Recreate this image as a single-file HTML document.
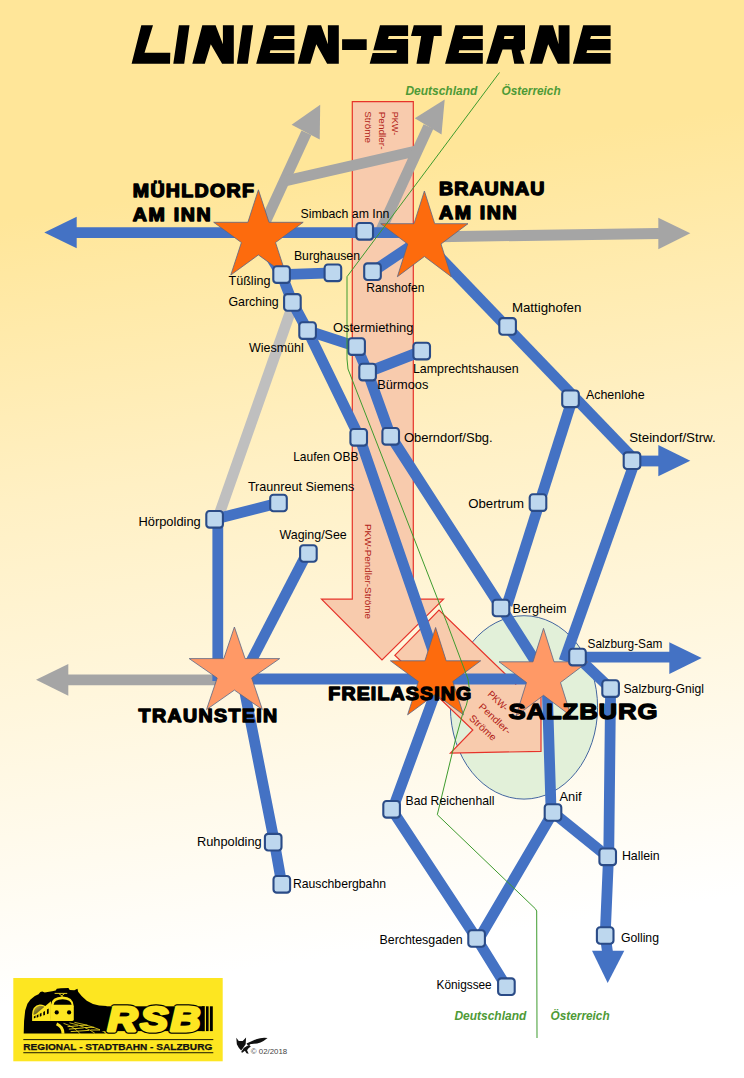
<!DOCTYPE html>
<html><head><meta charset="utf-8"><title>Linien-Sterne</title>
<style>
html,body{margin:0;padding:0;}
body{width:744px;height:1078px;overflow:hidden;background:#fff;font-family:"Liberation Sans",sans-serif;}
svg{display:block;font-family:"Liberation Sans",sans-serif;}
</style></head><body>
<svg width="744" height="1078" viewBox="0 0 744 1078">
<defs>
<linearGradient id="bg" gradientUnits="userSpaceOnUse" x1="0" y1="0" x2="178" y2="1186.7">
<stop offset="0" stop-color="#FFE699"/><stop offset="0.18" stop-color="#FFE699"/><stop offset="0.416" stop-color="#FFF0C4"/><stop offset="0.83" stop-color="#FFFFFF"/><stop offset="1" stop-color="#FFFFFF"/>
</linearGradient>
</defs>
<rect width="744" height="1078" fill="url(#bg)"/>

<ellipse cx="524" cy="707.4" rx="73.6" ry="91.7" fill="#E2F0D9" stroke="#2F5597" stroke-width="0.9"/>
<polygon points="352.3,101.7 413.3,101.7 413.3,599.2 443.5,599.2 382.0,660.0 321.5,599.2 352.3,599.2" fill="#F8CBAD" />
<polygon points="394.8,655.3 439.0,610.0 515.7,684.1 541.0,660.5 541.0,751.3 450.4,753.2 472.8,730.0" fill="#F8CBAD" />
<polygon points="352.3,101.7 413.3,101.7 413.3,599.2 443.5,599.2 382.0,660.0 321.5,599.2 352.3,599.2" fill="none" stroke="#E6332A" stroke-width="1.2" stroke-linejoin="miter" />
<polygon points="394.8,655.3 439.0,610.0 515.7,684.1 541.0,660.5 541.0,751.3 450.4,753.2 472.8,730.0" fill="none" stroke="#E6332A" stroke-width="1.2" stroke-linejoin="miter" />
<g fill="#B22217" font-size="9.8">
<text transform="translate(392.3,111.7) rotate(90)" textLength="23.5" lengthAdjust="spacingAndGlyphs">PKW-</text>
<text transform="translate(378.7,111.7) rotate(90)" textLength="37.8" lengthAdjust="spacingAndGlyphs">Pendler-</text>
<text transform="translate(365,111.3) rotate(90)" textLength="31.6" lengthAdjust="spacingAndGlyphs">Ströme</text>
<text transform="translate(365.3,524) rotate(90)" textLength="95" lengthAdjust="spacingAndGlyphs">PKW-Pendler-Ströme</text>
<text transform="translate(487,695) rotate(43)" textLength="24" lengthAdjust="spacingAndGlyphs">PKW-</text>
<text transform="translate(478,707.5) rotate(43)" textLength="40" lengthAdjust="spacingAndGlyphs">Pendler-</text>
<text transform="translate(468.5,719) rotate(43)" textLength="33" lengthAdjust="spacingAndGlyphs">Ströme</text>
</g>
<polyline points="293.6,302.6 218.6,516.0" fill="none" stroke="#BFBFBF" stroke-width="10.8" stroke-linecap="butt" stroke-linejoin="round"/>
<polyline points="258.4,237.0 306.4,132.7" fill="none" stroke="#A5A5A5" stroke-width="10.8" stroke-linecap="butt" stroke-linejoin="round"/>
<polyline points="286.0,180.8 416.0,151.0" fill="none" stroke="#A5A5A5" stroke-width="10.8" stroke-linecap="butt" stroke-linejoin="round"/>
<polyline points="381.0,230.0 428.5,126.5" fill="none" stroke="#A5A5A5" stroke-width="10.8" stroke-linecap="butt" stroke-linejoin="round"/>
<polygon points="320.2,104.7 291.6,124.8 319.7,139.4" fill="#A5A5A5" />
<polygon points="444.7,99.4 414.8,118.2 441.5,134.4" fill="#A5A5A5" />
<polyline points="424.3,237.0 659.0,233.5" fill="none" stroke="#A5A5A5" stroke-width="10.8" stroke-linecap="butt" stroke-linejoin="round"/>
<polygon points="690.3,233.3 658.3,217.7 658.3,249.3" fill="#A5A5A5" />
<polyline points="68.0,679.8 234.0,679.8" fill="none" stroke="#A5A5A5" stroke-width="10.8" stroke-linecap="butt" stroke-linejoin="round"/>
<polygon points="36.0,679.7 68.3,664.0 68.3,695.7" fill="#A5A5A5" />
<polyline points="76.0,232.6 424.0,232.6" fill="none" stroke="#4472C4" stroke-width="10.8" stroke-linecap="butt" stroke-linejoin="round"/>
<polyline points="430.0,247.0 632.0,457.0" fill="none" stroke="#4472C4" stroke-width="10.8" stroke-linecap="butt" stroke-linejoin="round"/>
<polyline points="631.0,461.0 660.0,461.0" fill="none" stroke="#4472C4" stroke-width="10.8" stroke-linecap="butt" stroke-linejoin="round"/>
<polyline points="570.5,405.0 507.0,605.0" fill="none" stroke="#4472C4" stroke-width="10.8" stroke-linecap="butt" stroke-linejoin="round"/>
<polyline points="634.0,464.0 564.0,661.0" fill="none" stroke="#4472C4" stroke-width="10.8" stroke-linecap="butt" stroke-linejoin="round"/>
<polyline points="424.3,237.0 372.5,271.7" fill="none" stroke="#4472C4" stroke-width="10.8" stroke-linecap="butt" stroke-linejoin="round"/>
<polyline points="281.6,274.6 332.9,272.8" fill="none" stroke="#4472C4" stroke-width="10.8" stroke-linecap="butt" stroke-linejoin="round"/>
<polyline points="258.4,237.0 281.6,274.6 292.4,302.4 307.6,330.6 359.5,437.5 439.0,668.0" fill="none" stroke="#4472C4" stroke-width="10.8" stroke-linecap="butt" stroke-linejoin="round"/>
<polyline points="307.6,330.6 356.6,346.6 367.6,372.1 390.7,436.3 501.5,608.0 543.5,674.0" fill="none" stroke="#4472C4" stroke-width="10.8" stroke-linecap="butt" stroke-linejoin="round"/>
<polyline points="367.6,372.1 421.7,351.1" fill="none" stroke="#4472C4" stroke-width="10.8" stroke-linecap="butt" stroke-linejoin="round"/>
<polyline points="214.6,519.3 278.5,503.0" fill="none" stroke="#4472C4" stroke-width="10.8" stroke-linecap="butt" stroke-linejoin="round"/>
<polyline points="217.8,520.0 217.8,681.0" fill="none" stroke="#4472C4" stroke-width="10.8" stroke-linecap="butt" stroke-linejoin="round"/>
<polyline points="304.0,559.0 245.0,673.0" fill="none" stroke="#4472C4" stroke-width="10.8" stroke-linecap="butt" stroke-linejoin="round"/>
<polyline points="234.0,679.0 545.0,679.0" fill="none" stroke="#4472C4" stroke-width="10.8" stroke-linecap="butt" stroke-linejoin="round"/>
<polyline points="577.5,657.1 670.0,657.2" fill="none" stroke="#4472C4" stroke-width="10.8" stroke-linecap="butt" stroke-linejoin="round"/>
<polyline points="242.0,678.0 273.6,838.0 281.8,884.3" fill="none" stroke="#4472C4" stroke-width="10.8" stroke-linecap="butt" stroke-linejoin="round"/>
<polyline points="443.0,672.0 394.5,804.0 391.6,809.3 476.6,938.5 506.4,986.7" fill="none" stroke="#4472C4" stroke-width="10.8" stroke-linecap="butt" stroke-linejoin="round"/>
<polyline points="547.3,690.0 551.0,808.0 553.0,812.5" fill="none" stroke="#4472C4" stroke-width="10.8" stroke-linecap="butt" stroke-linejoin="round"/>
<polyline points="553.0,812.5 480.0,937.0 476.6,938.5" fill="none" stroke="#4472C4" stroke-width="10.8" stroke-linecap="butt" stroke-linejoin="round"/>
<polyline points="553.0,812.5 607.7,856.8" fill="none" stroke="#4472C4" stroke-width="10.8" stroke-linecap="butt" stroke-linejoin="round"/>
<polyline points="577.5,657.1 610.6,688.6 608.8,850.0 605.2,935.5 607.5,952.0" fill="none" stroke="#4472C4" stroke-width="10.8" stroke-linecap="butt" stroke-linejoin="round"/>
<polygon points="44.3,232.5 76.7,216.7 76.7,248.3" fill="#4472C4" />
<polygon points="690.3,460.7 658.3,445.0 658.3,476.3" fill="#4472C4" />
<polygon points="701.7,658.0 669.3,642.3 669.3,674.0" fill="#4472C4" />
<polygon points="607.7,983.0 592.0,950.7 624.3,950.7" fill="#4472C4" />
<polygon points="258.4,189.8 269.0,222.3 303.2,222.3 275.5,242.5 286.1,275.0 258.4,254.9 230.8,275.0 241.4,242.5 213.7,222.3 247.9,222.3" fill="#FD6B0D" stroke="#5b6685" stroke-width="0.8" stroke-linejoin="miter" />
<polygon points="424.4,191.0 434.7,223.7 468.0,223.7 441.0,244.0 451.3,276.7 424.4,256.5 397.4,276.7 407.7,244.0 380.7,223.7 414.0,223.7" fill="#FD6B0D" stroke="#5b6685" stroke-width="0.8" stroke-linejoin="miter" />
<polygon points="234.4,627.0 245.1,658.6 279.7,658.6 251.7,678.0 262.4,709.6 234.4,690.1 206.5,709.6 217.2,678.0 189.2,658.6 223.8,658.6" fill="#FF9966" stroke="#5b6685" stroke-width="0.8" stroke-linejoin="miter" />
<polygon points="435.6,627.5 446.2,660.8 480.7,660.8 452.8,681.5 463.5,714.8 435.5,694.2 407.6,714.8 418.3,681.5 390.4,660.8 424.9,660.8" fill="#FD6B0D" stroke="#5b6685" stroke-width="0.8" stroke-linejoin="miter" />
<polygon points="543.5,628.3 554.0,661.8 588.0,661.8 560.5,682.5 571.0,716.0 543.5,695.3 516.0,716.0 526.5,682.5 499.0,661.8 533.0,661.8" fill="#FF9966" stroke="#5b6685" stroke-width="0.8" stroke-linejoin="miter" />
<rect x="356.4" y="223.0" width="16.6" height="16.6" rx="3.2" fill="#BDD7EE" stroke="#2A4B87" stroke-width="2.1"/>
<rect x="324.6" y="264.5" width="16.6" height="16.6" rx="3.2" fill="#BDD7EE" stroke="#2A4B87" stroke-width="2.1"/>
<rect x="364.2" y="263.4" width="16.6" height="16.6" rx="3.2" fill="#BDD7EE" stroke="#2A4B87" stroke-width="2.1"/>
<rect x="273.3" y="266.3" width="16.6" height="16.6" rx="3.2" fill="#BDD7EE" stroke="#2A4B87" stroke-width="2.1"/>
<rect x="284.1" y="294.1" width="16.6" height="16.6" rx="3.2" fill="#BDD7EE" stroke="#2A4B87" stroke-width="2.1"/>
<rect x="299.3" y="322.3" width="16.6" height="16.6" rx="3.2" fill="#BDD7EE" stroke="#2A4B87" stroke-width="2.1"/>
<rect x="348.3" y="338.3" width="16.6" height="16.6" rx="3.2" fill="#BDD7EE" stroke="#2A4B87" stroke-width="2.1"/>
<rect x="413.4" y="342.8" width="16.6" height="16.6" rx="3.2" fill="#BDD7EE" stroke="#2A4B87" stroke-width="2.1"/>
<rect x="359.3" y="363.8" width="16.6" height="16.6" rx="3.2" fill="#BDD7EE" stroke="#2A4B87" stroke-width="2.1"/>
<rect x="350.4" y="429.0" width="16.6" height="16.6" rx="3.2" fill="#BDD7EE" stroke="#2A4B87" stroke-width="2.1"/>
<rect x="382.4" y="428.0" width="16.6" height="16.6" rx="3.2" fill="#BDD7EE" stroke="#2A4B87" stroke-width="2.1"/>
<rect x="270.2" y="494.7" width="16.6" height="16.6" rx="3.2" fill="#BDD7EE" stroke="#2A4B87" stroke-width="2.1"/>
<rect x="206.3" y="511.0" width="16.6" height="16.6" rx="3.2" fill="#BDD7EE" stroke="#2A4B87" stroke-width="2.1"/>
<rect x="300.1" y="545.2" width="16.6" height="16.6" rx="3.2" fill="#BDD7EE" stroke="#2A4B87" stroke-width="2.1"/>
<rect x="499.3" y="318.1" width="16.6" height="16.6" rx="3.2" fill="#BDD7EE" stroke="#2A4B87" stroke-width="2.1"/>
<rect x="562.2" y="390.5" width="16.6" height="16.6" rx="3.2" fill="#BDD7EE" stroke="#2A4B87" stroke-width="2.1"/>
<rect x="623.7" y="452.4" width="16.6" height="16.6" rx="3.2" fill="#BDD7EE" stroke="#2A4B87" stroke-width="2.1"/>
<rect x="529.7" y="494.3" width="16.6" height="16.6" rx="3.2" fill="#BDD7EE" stroke="#2A4B87" stroke-width="2.1"/>
<rect x="492.7" y="599.7" width="16.6" height="16.6" rx="3.2" fill="#BDD7EE" stroke="#2A4B87" stroke-width="2.1"/>
<rect x="569.2" y="648.8" width="16.6" height="16.6" rx="3.2" fill="#BDD7EE" stroke="#2A4B87" stroke-width="2.1"/>
<rect x="602.3" y="680.3" width="16.6" height="16.6" rx="3.2" fill="#BDD7EE" stroke="#2A4B87" stroke-width="2.1"/>
<rect x="383.3" y="801.0" width="16.6" height="16.6" rx="3.2" fill="#BDD7EE" stroke="#2A4B87" stroke-width="2.1"/>
<rect x="544.7" y="804.2" width="16.6" height="16.6" rx="3.2" fill="#BDD7EE" stroke="#2A4B87" stroke-width="2.1"/>
<rect x="599.4" y="848.5" width="16.6" height="16.6" rx="3.2" fill="#BDD7EE" stroke="#2A4B87" stroke-width="2.1"/>
<rect x="596.9" y="927.2" width="16.6" height="16.6" rx="3.2" fill="#BDD7EE" stroke="#2A4B87" stroke-width="2.1"/>
<rect x="468.3" y="930.2" width="16.6" height="16.6" rx="3.2" fill="#BDD7EE" stroke="#2A4B87" stroke-width="2.1"/>
<rect x="498.1" y="978.4" width="16.6" height="16.6" rx="3.2" fill="#BDD7EE" stroke="#2A4B87" stroke-width="2.1"/>
<rect x="264.9" y="833.9" width="16.6" height="16.6" rx="3.2" fill="#BDD7EE" stroke="#2A4B87" stroke-width="2.1"/>
<rect x="273.5" y="876.0" width="16.6" height="16.6" rx="3.2" fill="#BDD7EE" stroke="#2A4B87" stroke-width="2.1"/>
<path d="M499.5,72.5 L347,276.7 L347,359 L348,369 L448,625.7 L468,679 Q472,695 462.4,714.8 L455.4,740 L437.3,814.7 L535.3,908.7 L536.7,911 L537,1038" fill="none" stroke="#3E9B2E" stroke-width="1"/>
<g>
<text x="300.5" y="217.8" font-size="12.8" font-weight="normal" fill="#000" textLength="88.9" lengthAdjust="spacingAndGlyphs"  >Simbach am Inn</text>
<text x="293.9" y="259.8" font-size="12.8" font-weight="normal" fill="#000" textLength="66.1" lengthAdjust="spacingAndGlyphs"  >Burghausen</text>
<text x="366.2" y="292.2" font-size="12.8" font-weight="normal" fill="#000" textLength="58.2" lengthAdjust="spacingAndGlyphs"  >Ranshofen</text>
<text x="228.5" y="284.5" font-size="12.8" font-weight="normal" fill="#000" textLength="41.9" lengthAdjust="spacingAndGlyphs"  >Tüßling</text>
<text x="228.5" y="305.5" font-size="12.8" font-weight="normal" fill="#000" textLength="50.2" lengthAdjust="spacingAndGlyphs"  >Garching</text>
<text x="248.9" y="352.2" font-size="12.8" font-weight="normal" fill="#000" textLength="54.8" lengthAdjust="spacingAndGlyphs"  >Wiesmühl</text>
<text x="332.9" y="332.2" font-size="12.8" font-weight="normal" fill="#000" textLength="80.5" lengthAdjust="spacingAndGlyphs"  >Ostermiething</text>
<text x="412.9" y="372.8" font-size="12.8" font-weight="normal" fill="#000" textLength="105.8" lengthAdjust="spacingAndGlyphs"  >Lamprechtshausen</text>
<text x="377.2" y="388.8" font-size="12.8" font-weight="normal" fill="#000" textLength="51.2" lengthAdjust="spacingAndGlyphs"  >Bürmoos</text>
<text x="293.2" y="460.5" font-size="12.8" font-weight="normal" fill="#000" textLength="65.2" lengthAdjust="spacingAndGlyphs"  >Laufen OBB</text>
<text x="403.9" y="441.8" font-size="12.8" font-weight="normal" fill="#000" textLength="88.8" lengthAdjust="spacingAndGlyphs"  >Oberndorf/Sbg.</text>
<text x="247.9" y="490.5" font-size="12.8" font-weight="normal" fill="#000" textLength="106.5" lengthAdjust="spacingAndGlyphs"  >Traunreut Siemens</text>
<text x="138.5" y="526.2" font-size="12.8" font-weight="normal" fill="#000" textLength="62.2" lengthAdjust="spacingAndGlyphs"  >Hörpolding</text>
<text x="279.5" y="538.5" font-size="12.8" font-weight="normal" fill="#000" textLength="67.2" lengthAdjust="spacingAndGlyphs"  >Waging/See</text>
<text x="511.9" y="311.5" font-size="12.8" font-weight="normal" fill="#000" textLength="69.5" lengthAdjust="spacingAndGlyphs"  >Mattighofen</text>
<text x="585.9" y="398.8" font-size="12.8" font-weight="normal" fill="#000" textLength="58.8" lengthAdjust="spacingAndGlyphs"  >Achenlohe</text>
<text x="629.2" y="442.2" font-size="12.8" font-weight="normal" fill="#000" textLength="86.5" lengthAdjust="spacingAndGlyphs"  >Steindorf/Strw.</text>
<text x="468.2" y="507.8" font-size="12.8" font-weight="normal" fill="#000" textLength="55.8" lengthAdjust="spacingAndGlyphs"  >Obertrum</text>
<text x="512.5" y="612.8" font-size="12.8" font-weight="normal" fill="#000" textLength="53.9" lengthAdjust="spacingAndGlyphs"  >Bergheim</text>
<text x="587.5" y="647.8" font-size="12.8" font-weight="normal" fill="#000" textLength="74.9" lengthAdjust="spacingAndGlyphs"  >Salzburg-Sam</text>
<text x="623.5" y="692.8" font-size="12.8" font-weight="normal" fill="#000" textLength="80.5" lengthAdjust="spacingAndGlyphs"  >Salzburg-Gnigl</text>
<text x="405.5" y="804.5" font-size="12.8" font-weight="normal" fill="#000" textLength="88.9" lengthAdjust="spacingAndGlyphs"  >Bad Reichenhall</text>
<text x="559.5" y="801.2" font-size="12.8" font-weight="normal" fill="#000" textLength="22.2" lengthAdjust="spacingAndGlyphs"  >Anif</text>
<text x="621.9" y="860.2" font-size="12.8" font-weight="normal" fill="#000" textLength="37.8" lengthAdjust="spacingAndGlyphs"  >Hallein</text>
<text x="620.9" y="941.8" font-size="12.8" font-weight="normal" fill="#000" textLength="38.1" lengthAdjust="spacingAndGlyphs"  >Golling</text>
<text x="379.5" y="943.5" font-size="12.8" font-weight="normal" fill="#000" textLength="83.2" lengthAdjust="spacingAndGlyphs"  >Berchtesgaden</text>
<text x="436.5" y="989.2" font-size="12.8" font-weight="normal" fill="#000" textLength="55.2" lengthAdjust="spacingAndGlyphs"  >Königssee</text>
<text x="196.9" y="846.2" font-size="12.8" font-weight="normal" fill="#000" textLength="64.8" lengthAdjust="spacingAndGlyphs"  >Ruhpolding</text>
<text x="292.9" y="887.8" font-size="12.8" font-weight="normal" fill="#000" textLength="93.1" lengthAdjust="spacingAndGlyphs"  >Rauschbergbahn</text>
</g>
<g font-weight="bold" stroke="#000" stroke-width="1.3" stroke-linejoin="round">
<text transform="translate(132.8,197.4) scale(1.12,1)" font-size="17.5" textLength="108.2" lengthAdjust="spacing">MÜHLDORF</text>
<text transform="translate(132.8,221.2) scale(1.12,1)" font-size="17.5" textLength="69.6" lengthAdjust="spacing">AM INN</text>
<text transform="translate(439.0,194.7) scale(1.12,1)" font-size="17.5" textLength="94.0" lengthAdjust="spacing">BRAUNAU</text>
<text transform="translate(439.0,218.9) scale(1.12,1)" font-size="17.5" textLength="69.3" lengthAdjust="spacing">AM INN</text>
<text transform="translate(138.6,722.4) scale(1.12,1)" font-size="17.5" textLength="123.8" lengthAdjust="spacing">TRAUNSTEIN</text>
<text transform="translate(328.3,700.4) scale(1.12,1)" font-size="17.5" textLength="127.7" lengthAdjust="spacing">FREILASSING</text>
<text transform="translate(508.4,718.9) scale(1.12,1)" font-size="23" textLength="133.2" lengthAdjust="spacing">SALZBURG</text>
</g>
<g font-weight="bold" font-style="italic" fill="#4E9A36" font-size="12.2">
<text x="405.4" y="95.0" font-size="13.3" font-weight="bold" fill="#4E9A36" textLength="71.9" lengthAdjust="spacingAndGlyphs"  >Deutschland</text>
<text x="501.6" y="95.0" font-size="13.3" font-weight="bold" fill="#4E9A36" textLength="59.0" lengthAdjust="spacingAndGlyphs"  >Österreich</text>
<text x="454.4" y="1019.6" font-size="13.3" font-weight="bold" fill="#4E9A36" textLength="71.9" lengthAdjust="spacingAndGlyphs"  >Deutschland</text>
<text x="550.6" y="1019.6" font-size="13.3" font-weight="bold" fill="#4E9A36" textLength="59.0" lengthAdjust="spacingAndGlyphs"  >Österreich</text>
</g>
<path fill="#000" fill-rule="evenodd" d="M131.6,63.7 L141.3,25.2 L153.0,25.2 L144.5,52.7 L170.3,52.7 L170.0,63.7ZM173.3,63.7 L178.9,25.2 L189.5,25.2 L184.2,63.7ZM192.3,63.7 L202.3,25.2 L215.6,25.2 L222.9,44.2 L222.9,25.2 L233.8,25.2 L233.8,63.7 L222.1,63.7 L210.8,44.2 L204.8,63.7ZM236.9,63.7 L242.5,25.2 L253.1,25.2 L247.8,63.7ZM256.2,63.7 L266.5,25.2 L294.4,25.2 L294.4,35.9 L274.3,35.9 L273.4,39.0 L294.4,39.0 L294.4,50.2 L270.4,50.2 L269.7,53.0 L294.4,53.0 L294.4,63.7ZM297.8,63.7 L307.8,25.2 L321.1,25.2 L327.9,44.2 L327.9,25.2 L338.8,25.2 L338.8,63.7 L327.1,63.7 L316.3,44.2 L310.3,63.7ZM342.1,39.2 L366.7,39.2 L366.7,50.0 L342.1,50.0ZM369.7,63.7 L372.6,53.0 L396.3,53.0 L397.0,50.2 L373.3,50.2 L380.0,25.2 L408.1,25.2 L408.1,35.9 L388.8,35.9 L387.9,39.0 L408.1,39.0 L408.1,63.7ZM413.8,25.2 L441.7,25.2 L441.7,35.9 L411.0,35.9ZM416.5,63.7 L421.2,35.9 L433.9,35.9 L429.2,63.7ZM445.1,63.7 L455.4,25.2 L482.8,25.2 L482.8,35.9 L463.2,35.9 L462.3,39.0 L482.8,39.0 L482.8,50.2 L459.3,50.2 L458.6,53.0 L482.8,53.0 L482.8,63.7ZM486.1,63.7 L497.4,25.2 L525.0,25.2 L525.0,49.2 L520.3,50.8 L524.4,63.7 L514.3,63.7 L511.5,49.4 L502.6,49.4 L497.4,63.7ZM504.5,36.1 L514.0,36.1 L513.3,39.0 L503.8,39.0ZM529.7,63.7 L539.7,25.2 L553.0,25.2 L558.6,44.2 L558.6,25.2 L569.5,25.2 L569.5,63.7 L557.8,63.7 L548.2,44.2 L542.2,63.7ZM572.9,63.7 L583.2,25.2 L610.6,25.2 L610.6,35.9 L591.0,35.9 L590.1,39.0 L610.6,39.0 L610.6,50.2 L587.1,50.2 L586.4,53.0 L610.6,53.0 L610.6,63.7Z"/>
<rect x="13.3" y="978" width="209.4" height="83.3" fill="#FDE621"/>
<g transform="translate(20,984) scale(0.12366)">
<path d="M30,400 L33,300 L42,215 L60,160 L85,125 L120,98 L150,82 L165,65 L180,60 L200,68 L235,62 L260,58 L288,52 L298,38 L330,34 L392,33 L402,48 L440,50 L452,44 L465,38 L470,62 L500,100 L540,135 L590,162 L640,174 L700,178 L700,400 Z" fill="#000"/>
<defs><linearGradient id="tg" x1="0" y1="0" x2="1" y2="1"><stop offset="0" stop-color="#c9b83a"/><stop offset="1" stop-color="#1a1a10"/></linearGradient></defs>
<path d="M98,300 L98,245 Q100,175 160,165 Q200,165 225,195 L250,300 Z" fill="#FDE621"/>
<path d="M108,248 Q110,185 160,176 Q192,176 212,196 L130,245 Z" fill="url(#tg)"/>
<path d="M250,140 L250,300 L105,300 L105,262 Z" fill="#FDE621"/>
<path d="M112,262 L126,255 L126,273 L112,278 Z" fill="#000"/>
<path d="M135,252 L149,245 L149,267 L135,272 Z" fill="#000"/>
<path d="M160,240 L174,233 L174,259 L160,264 Z" fill="#000"/>
<path d="M188,226 L202,219 L202,250 L188,255 Z" fill="#000"/>
<path d="M218,206 L232,199 L232,239 L218,244 Z" fill="#000"/>
<path d="M250,300 L250,170 Q255,105 345,102 Q430,105 435,180 L435,285 Q435,300 420,300 Z" fill="#FDE621"/>
<path d="M272,168 Q275,125 345,123 Q412,125 418,168 Z" fill="#000"/>
<circle cx="297" cy="230" r="17" fill="#000"/><circle cx="397" cy="230" r="17" fill="#000"/>
<path d="M280,76 L382,76 M315,78 L345,102 M360,78 L330,102" stroke="#FDE621" stroke-width="7" fill="none"/>
<path d="M296,322 Q348,345 348,402" stroke="#FDE621" stroke-width="24" fill="none"/>
<path d="M352,318 Q440,345 485,402 M400,314 Q525,340 605,398 M440,310 Q585,338 685,388" stroke="#FDE621" stroke-width="6" fill="none"/>
<path d="M385,345 L470,338 M395,365 L515,355 M410,385 L560,375 M480,335 L545,332 M525,352 L600,350 M570,372 L650,372" stroke="#FDE621" stroke-width="7" fill="none"/>
</g>
<clipPath id="lc1"><rect x="90" y="990" width="125" height="16.3"/><rect x="90" y="1031.1" width="125" height="10"/></clipPath>
<g clip-path="url(#lc1)"><text transform="translate(107.6,1031.3) scale(1.15,1)" letter-spacing="2.4" font-size="36" font-weight="bold" font-style="italic" fill="#FDE621" stroke="#FDE621" stroke-width="7.2" stroke-linejoin="round">RSB</text>
<text transform="translate(107.6,1031.3) scale(1.15,1)" letter-spacing="2.4" font-size="36" font-weight="bold" font-style="italic" fill="#FDE621" stroke="#000" stroke-width="5.4" stroke-linejoin="round">RSB</text></g>
<rect x="100" y="1006.3" width="104.8" height="24.8" fill="#000"/>
<rect x="202" y="1006.3" width="2.8" height="24.8" fill="#000"/><rect x="205.8" y="1006.3" width="2.8" height="24.8" fill="#000"/><rect x="209.9" y="1006.3" width="2.9" height="24.8" fill="#000"/>
<rect x="204.8" y="1006.3" width="1" height="24.8" fill="#FDE621"/>
<text transform="translate(107.6,1031.3) scale(1.15,1)" letter-spacing="2.4" font-size="36" font-weight="bold" font-style="italic" fill="#FDE621" stroke="#FDE621" stroke-width="3.0" stroke-linejoin="round">RSB</text>
<rect x="23.3" y="1039.2" width="190" height="0.9" fill="#000"/><rect x="23.3" y="1052.3" width="190" height="0.9" fill="#000"/>
<text x="23.3" y="1049.9" font-size="9" font-weight="bold" fill="#111" textLength="189" lengthAdjust="spacingAndGlyphs" stroke="#111" stroke-width="0.25">REGIONAL - STADTBAHN - SALZBURG</text>
<g transform="translate(225,1025) scale(0.10753)" fill="#111">
<path d="M105,118 L128,148 L165,148 L196,116 L192,178 L168,215 L150,238 L128,212 L110,180 Z"/>
<path d="M200,172 Q250,150 290,132 Q340,112 396,120 Q360,150 330,162 Q280,178 240,176 L215,192 Z"/>
<path d="M175,215 Q200,195 225,185 L240,200 Q215,215 205,235 L220,268 L200,262 L185,240 L160,258 L150,250 Z"/>
</g>
<text x="250.8" y="1053.8" font-size="6.6" fill="#444" textLength="36.4" lengthAdjust="spacingAndGlyphs">© 02/2018</text>
</svg></body></html>
